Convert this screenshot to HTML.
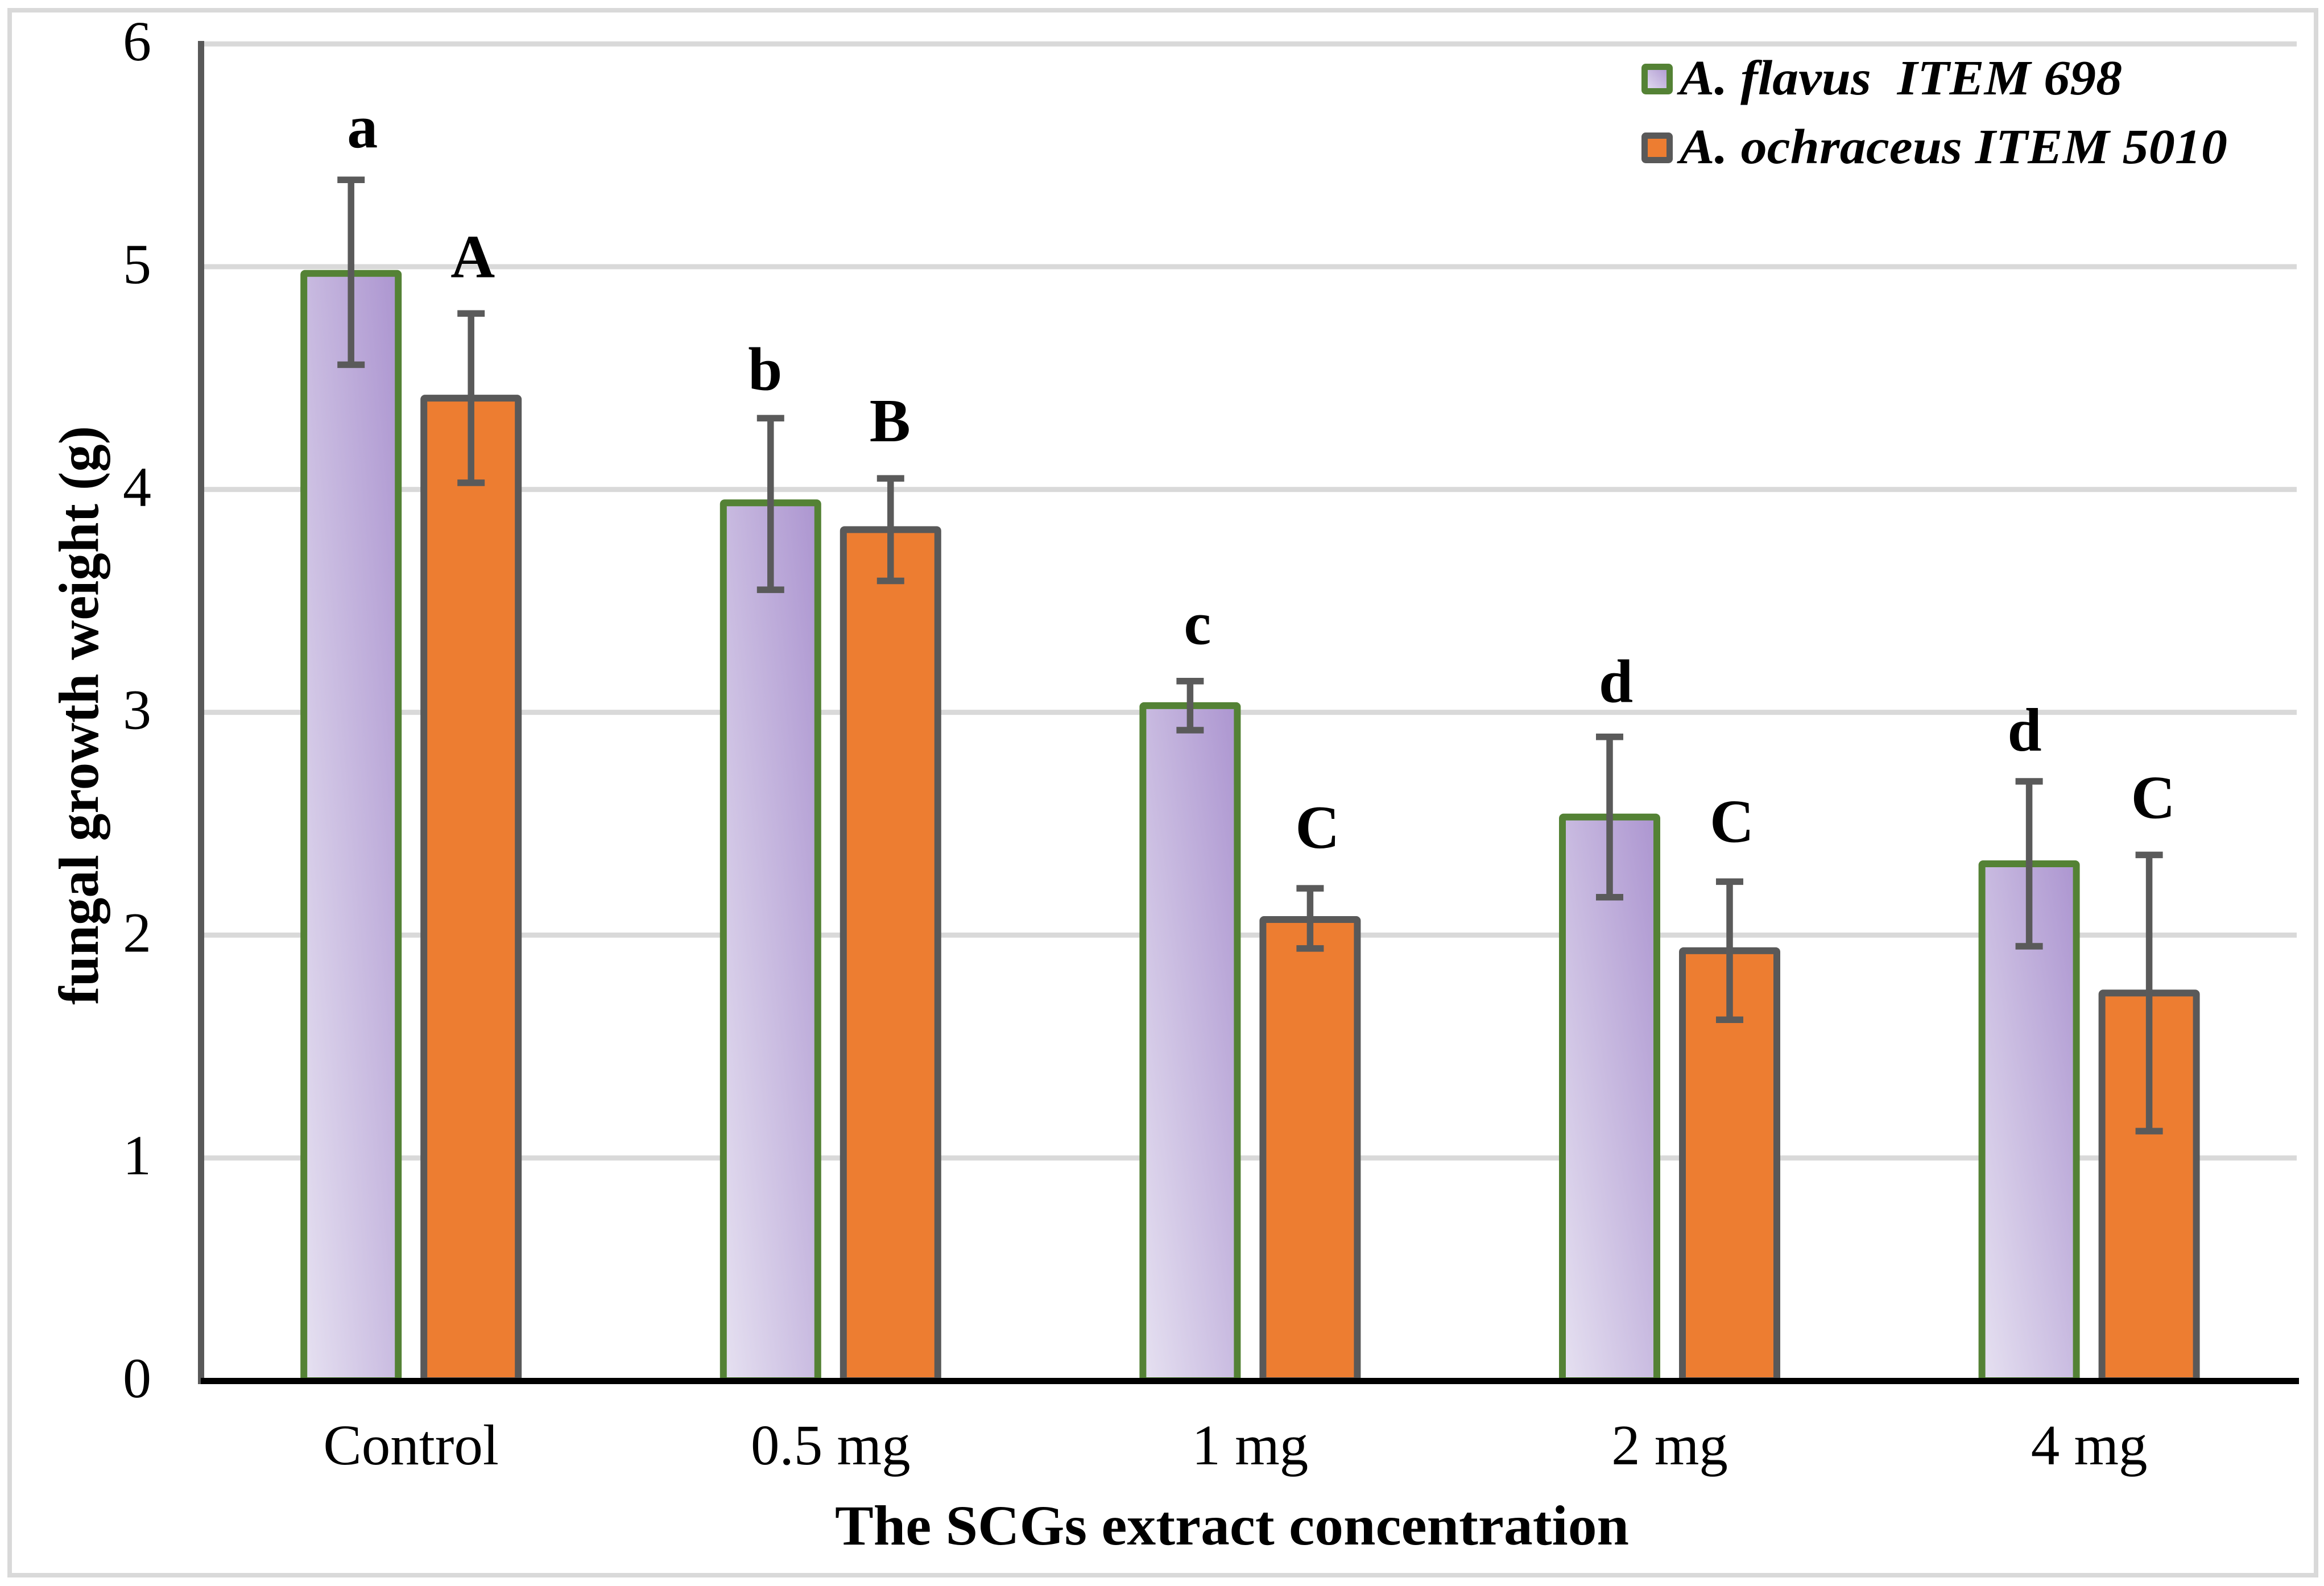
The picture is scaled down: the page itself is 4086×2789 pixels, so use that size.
<!DOCTYPE html>
<html lang="en">
<head>
<meta charset="utf-8">
<title>Fungal growth weight vs SCGs extract concentration</title>
<style>
html,body{margin:0;padding:0;background:#fff;width:4086px;height:2789px;overflow:hidden}
svg{display:block}
text{font-family:"Liberation Serif",serif;fill:#000}
</style>
</head>
<body>
<svg id="chart" xmlns="http://www.w3.org/2000/svg" width="4086" height="2789" viewBox="0 0 4086 2789">
  <defs>
    <linearGradient id="purpleFill" x1="0" y1="1" x2="1" y2="0">
      <stop offset="0" stop-color="#e6e1f1"/>
      <stop offset="1" stop-color="#ac95d0"/>
    </linearGradient>
  </defs>
  <rect x="17" y="18" width="4055" height="2752" fill="#fff" stroke="#d9d9d9" stroke-width="8"/>
  <g id="grid"></g>
  <g id="bars"></g>
  <g id="errors"></g>
  <g id="letters"></g>
  <g id="yticks"></g>
  <g id="xticks"></g>
  <rect x="348" y="72" width="11" height="2362" fill="#595959"/>
  <rect x="353" y="2423" width="3689" height="11" fill="#000"/>
  <text transform="translate(172,1767) rotate(-90)" font-size="100" font-weight="bold" textLength="1018" lengthAdjust="spacingAndGlyphs">fungal growth weight (g)</text>
  <text x="1468" y="2716" font-size="100" font-weight="bold" textLength="1396" lengthAdjust="spacingAndGlyphs">The SCGs extract concentration</text>
  <g>
    <g>
      <rect x="2891.5" y="117.5" width="44" height="43" rx="2" fill="url(#purpleFill)" stroke="#548235" stroke-width="11"/>
      <text x="2953" y="166" font-size="87" font-weight="bold" font-style="italic" xml:space="preserve" textLength="778" lengthAdjust="spacingAndGlyphs">A. flavus  ITEM 698</text>
    </g>
    <g>
      <rect x="2891.5" y="238.5" width="44" height="43" rx="2" fill="#ed7d31" stroke="#595959" stroke-width="11"/>
      <text x="2953" y="287" font-size="87" font-weight="bold" font-style="italic" xml:space="preserve" textLength="963" lengthAdjust="spacingAndGlyphs">A. ochraceus ITEM 5010</text>
    </g>
  </g>
</svg>
<script>
var categories = ["Control", "0.5 mg", "1 mg", "2 mg", "4 mg"];
var yTickLabels = [0, 1, 2, 3, 4, 5, 6];
var flavusMeans = [4.97, 3.94, 3.03, 2.53, 2.32];
var flavusErrHigh = [5.39, 4.32, 3.14, 2.89, 2.69];
var flavusErrLow = [4.56, 3.55, 2.92, 2.17, 1.95];
var ochraceusMeans = [4.41, 3.82, 2.07, 1.93, 1.74];
var ochraceusErrHigh = [4.79, 4.05, 2.21, 2.24, 2.36];
var ochraceusErrLow = [4.03, 3.59, 1.94, 1.62, 1.12];
var flavusLetters = ["a", "b", "c", "d", "d"];
var ochraceusLetters = ["A", "B", "C", "C", "C"];

var SVGNS = "http://www.w3.org/2000/svg";
function yScale(v) { return 2428 - v * 391.8; }
function xScale(i) { return 722.7 + i * 737.6; }
var BAR_OFFSET = 105.5;
var BAR_WIDTH = 166;

function make(tag, attrs, parent, txt) {
  var el = document.createElementNS(SVGNS, tag);
  for (var k in attrs) { el.setAttribute(k, attrs[k]); }
  if (txt !== undefined) { el.textContent = txt; }
  parent.appendChild(el);
  return el;
}

var gridG = document.getElementById("grid");
var barsG = document.getElementById("bars");
var errG = document.getElementById("errors");
var lettersG = document.getElementById("letters");
var yG = document.getElementById("yticks");
var xG = document.getElementById("xticks");

yTickLabels.forEach(function (t) {
  if (t > 0) {
    var line = make("line", { x1: 359, x2: 4038, y1: yScale(t), y2: yScale(t), stroke: "#d9d9d9", "stroke-width": 9 }, gridG);
    
    
  }
  var lab = make("text", { x: 266, y: yScale(t) + 29, "text-anchor": "end", "font-size": 100 }, yG, String(t));
  
  
});

categories.forEach(function (c, i) {
  var lab = make("text", { x: xScale(i), y: 2575, "text-anchor": "middle", "font-size": 101 }, xG, c);
  
  
});

function drawBar(i, cx, value, fill, stroke) {
  var top = yScale(value);
  var bar = make("rect", { x: cx - BAR_WIDTH / 2, y: top, width: BAR_WIDTH, height: yScale(0) - top, rx: 2, fill: fill, stroke: stroke, "stroke-width": 12 }, barsG);
  
  
}

function drawError(cx, hi, lo) {
  var yHi = yScale(hi), yLo = yScale(lo);
  var stem = make("line", { x1: cx, x2: cx, y1: yHi, y2: yLo, stroke: "#5a5a5a", "stroke-width": 11.5 }, errG);
  
  
  var capTop = make("line", { x1: cx - 24, x2: cx + 24, y1: yHi, y2: yHi, stroke: "#5a5a5a", "stroke-width": 11.5 }, errG);
  
  
  var capBot = make("line", { x1: cx - 24, x2: cx + 24, y1: yLo, y2: yLo, stroke: "#5a5a5a", "stroke-width": 11.5 }, errG);
  
  
}

/* layout nudges for the hand-placed letters: sideways shift and gap above the error bar */
var flavusNudge = [[20, 57], [-9.5, 50], [13, 65], [11, 61], [-8, 54]];
var ochraceusNudge = [[3, 64], [-1, 65], [13, 71], [4, 70], [7, 65]];

function drawLetter(cx, hi, letter, nudge) {
  var t = make("text", { x: cx + nudge[0], y: yScale(hi) - nudge[1], "text-anchor": "middle", "font-size": 108, "font-weight": "bold" }, lettersG, letter);
  
  
}

categories.forEach(function (c, i) {
  var cxA = xScale(i) - BAR_OFFSET, cxB = xScale(i) + BAR_OFFSET;
  drawBar(i, cxA, flavusMeans[i], "url(#purpleFill)", "#548235");
  drawBar(i, cxB, ochraceusMeans[i], "#ed7d31", "#595959");
  drawError(cxA, flavusErrHigh[i], flavusErrLow[i]);
  drawError(cxB, ochraceusErrHigh[i], ochraceusErrLow[i]);
  drawLetter(cxA, flavusErrHigh[i], flavusLetters[i], flavusNudge[i]);
  drawLetter(cxB, ochraceusErrHigh[i], ochraceusLetters[i], ochraceusNudge[i]);
});
</script>
</body>
</html>
